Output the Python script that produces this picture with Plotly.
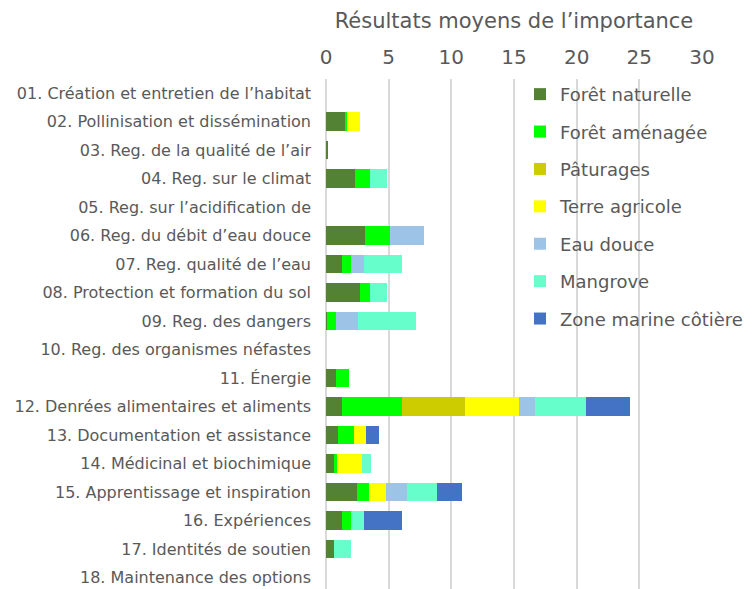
import plotly.graph_objects as go

categories = [
    "01. Création et entretien de l’habitat",
    "02. Pollinisation et dissémination",
    "03. Reg. de la qualité de l’air",
    "04. Reg. sur le climat",
    "05. Reg. sur l’acidification de",
    "06. Reg. du débit d’eau douce",
    "07. Reg. qualité de l’eau",
    "08. Protection et formation du sol",
    "09. Reg. des dangers",
    "10. Reg. des organismes néfastes",
    "11. Énergie",
    "12. Denrées alimentaires et aliments",
    "13. Documentation et assistance",
    "14. Médicinal et biochimique",
    "15. Apprentissage et inspiration",
    "16. Expériences",
    "17. Identités de soutien",
    "18. Maintenance des options",
]

foret_naturelle = [0, 1.5, 0.1, 2.28, 0, 3.13, 1.3, 2.73, 0.1, 0, 0.77, 1.3, 0.93, 0.61, 2.44, 1.3, 0.61, 0]
foret_amenagee  = [0, 0.2, 0, 1.25, 0, 1.99, 0.72, 0.8, 0.72, 0, 1.03, 4.75, 1.27, 0.27, 1.03, 0.72, 0, 0]
paturages       = [0, 0, 0, 0, 0, 0, 0, 0, 0, 0, 0, 5.04, 0, 0, 0, 0, 0, 0]
terre_agricole  = [0, 1.0, 0, 0, 0, 0, 0, 0, 0, 0, 0, 4.3, 1.0, 2.02, 1.33, 0, 0, 0]
eau_douce       = [0, 0, 0, 0, 0, 2.68, 1.03, 0, 1.7, 0, 0, 1.3, 0, 0, 1.67, 0, 0, 0]
mangrove        = [0, 0, 0, 1.35, 0, 0, 3.0, 1.35, 4.67, 0, 0, 4.03, 0, 0.66, 2.36, 1.03, 1.38, 0]
zone_marine     = [0, 0, 0, 0, 0, 0, 0, 0, 0, 0, 0, 3.5, 1.03, 0, 1.99, 3.0, 0, 0]

series_names = ["Forêt naturelle", "Forêt aménagée", "Pâturages", "Terre agricole",
                "Eau douce", "Mangrove", "Zone marine côtière"]
series_values = [foret_naturelle, foret_amenagee, paturages, terre_agricole,
                 eau_douce, mangrove, zone_marine]
series_colors = ["#548235", "#00FF00", "#CCCC00", "#FFFF00", "#9DC3E6", "#66FFCC", "#4472C4"]

x_ticks = [0, 5, 10, 15, 20, 25, 30]

FONT = "DejaVu Sans"
GREY = "#595959"

fig = go.Figure()
for name, vals, col in zip(series_names, series_values, series_colors):
    fig.add_trace(go.Bar(
        y=categories, x=vals, name=name, orientation="h",
        marker=dict(color=col, line=dict(width=0)),
        legendgroup=name,
    ))

fig.update_layout(
    barmode="stack",
    bargap=0.35,
    width=747, height=581,
    margin=dict(l=318, r=53, t=71, b=0),
    paper_bgcolor="white", plot_bgcolor="white",
    font=dict(family=FONT, color=GREY),
    title=dict(text="Résultats moyens de l’importance", x=0.5, xref="paper",
               xanchor="center", y=0.979, yanchor="middle", automargin=False,
               font=dict(size=21, color=GREY, family=FONT)),
    xaxis=dict(side="top", range=[0, 30], tickvals=x_ticks, automargin=False,
               showgrid=True, gridcolor="#D9D9D9", gridwidth=2,
               zeroline=True, zerolinecolor="#D9D9D9", zerolinewidth=2,
               tickfont=dict(size=20, color=GREY), ticks="", ticklen=0,
               ticklabelstandoff=10),
    yaxis=dict(range=[17.4, -0.5], type="category", automargin=False,
               tickfont=dict(size=16, color=GREY), ticks="", ticklen=0,
               ticklabelstandoff=14, showgrid=False),
    legend=dict(x=0.516, y=1.006, xanchor="left", yanchor="top",
                font=dict(size=18, color=GREY, family=FONT),
                traceorder="grouped", tracegroupgap=11, bgcolor="rgba(0,0,0,0)"),
)

fig.write_html("out.html")
